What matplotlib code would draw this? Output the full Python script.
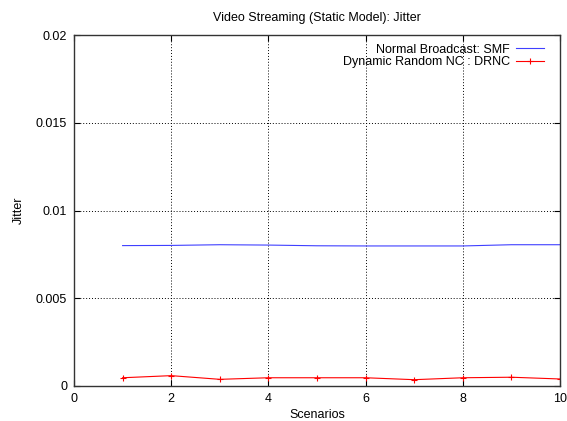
import numpy as np
import matplotlib
matplotlib.use("Agg")
import matplotlib.pyplot as plt

plt.rcParams['font.family'] = ['Liberation Sans', 'DejaVu Sans']

scenarios = [1, 2, 3, 4, 5, 6, 7, 8, 9, 10]
smf_jitter = [0.00800, 0.00801, 0.00805, 0.00803, 0.00799, 0.00798, 0.00798, 0.00798, 0.00805, 0.00805]
drnc_jitter = [0.00047, 0.00059, 0.00038, 0.00047, 0.00047, 0.00047, 0.00036, 0.00047, 0.00050, 0.00040]

fig = plt.figure(figsize=(5.67, 4.21), dpi=100)
ax = fig.add_axes([74/567, 35/421, 486/567, 351/421])

ax.plot(scenarios, smf_jitter, color='#4040ff', lw=0.8, label='Normal Broadcast: SMF')
ax.plot(scenarios, drnc_jitter, color='red', lw=0.8, marker='+', ms=5, mew=0.8,
        label='Dynamic Random NC : DRNC')

ax.set_xlim(0, 10)
ax.set_ylim(0, 0.02)
ax.set_xticks([0, 2, 4, 6, 8, 10])
ax.set_yticks([0, 0.005, 0.01, 0.015, 0.02])
ax.set_yticklabels(['0', '0.005', '0.01', '0.015', '0.02'])
ax.tick_params(direction='in', top=True, right=True, labelsize=9, length=4, pad=5)
ax.grid(True, color='black', linestyle=(0, (1, 2)), lw=0.7)
for s in ax.spines.values():
    s.set_linewidth(1.0)
    s.set_color('#333333')

ax.set_title('Video Streaming (Static Model): Jitter', fontsize=9, pad=10)
ax.set_xlabel('Scenarios', fontsize=9, labelpad=3)
ax.set_ylabel('Jitter', fontsize=9, labelpad=8)

leg = ax.legend(loc='upper right', frameon=False, fontsize=9, markerfirst=False,
                handlelength=2.2, handletextpad=0.5, borderaxespad=0.3,
                labelspacing=0.05, bbox_to_anchor=(0.985, 1.0))
for t in leg.get_texts():
    t.set_ha('right')

fig.savefig('out.png', dpi=100)
